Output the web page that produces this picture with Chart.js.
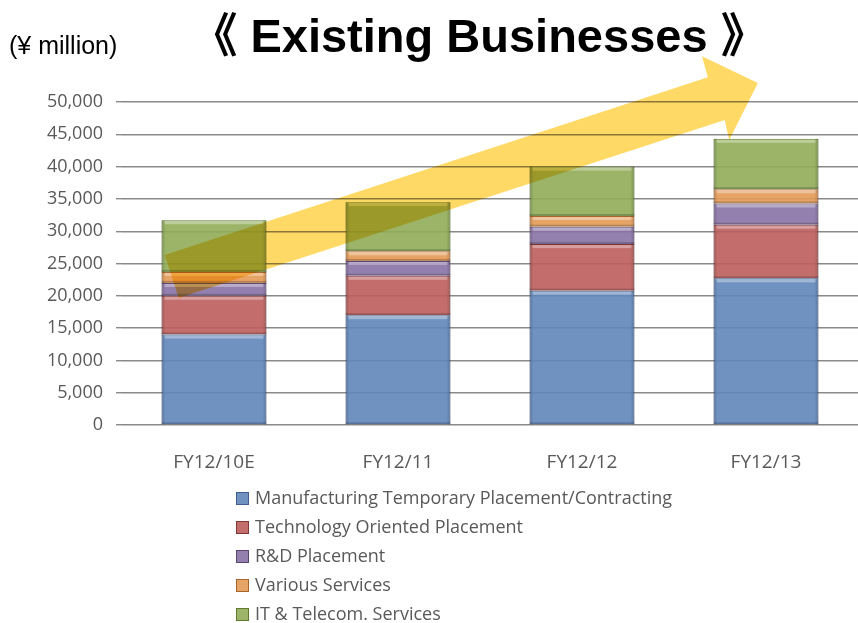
<!DOCTYPE html>
<html lang="en">
<head>
<meta charset="UTF-8">
<title>Existing Businesses</title>
<script src="https://cdn.jsdelivr.net/npm/chart.js"></script>
<style>
  html, body { margin: 0; padding: 0; background: #fff; }
  #wrap { position: relative; width: 858px; height: 623px; overflow: hidden; }
  #wrap canvas { position: absolute; left: 0; top: 0; }
  .title { position: absolute; left: 0; width: 958px; top: 8px; text-align: center; line-height: 48px;
           font: bold 47px "Liberation Sans", Arial, "Noto Sans CJK JP", sans-serif; color: #000; }
  .title span { line-height: 0; }
  .unit { position: absolute; left: 9px; top: 31px; line-height: 30px;
          font: 25px "Liberation Sans Narrow", "Liberation Sans", sans-serif; color: #000; }
  #legend { position: absolute; left: 236px; top: 484px; margin: 0; padding: 0; list-style: none;
            font: 18px "Open Sans", sans-serif; color: #595959; }
  #legend li { height: 29px; line-height: 26px; white-space: nowrap; }
  #legend span { display: inline-block; width: 11px; height: 11px; margin-right: 6px; vertical-align: -1px; }
</style>
</head>
<body>
<div id="wrap">
  <canvas id="chart" width="858" height="623"></canvas>
  <div class="title"><span>《</span> Existing Businesses <span>》</span></div>
  <div class="unit">(¥ million)</div>
  <ul id="legend"></ul>
</div>

<script>
// values in ¥ million
const categories = ['FY12/10E', 'FY12/11', 'FY12/12', 'FY12/13'];
const manufacturing = [14000, 17000, 20800, 22700];
const technology = [6000, 6100, 7200, 8300];
const rnd = [2000, 2300, 2700, 3300];
const various = [1700, 1500, 1650, 2200];
const itTelecom = [8000, 7600, 7650, 7800];
const yTicks = [0, 5000, 10000, 15000, 20000, 25000, 30000, 35000, 40000, 45000, 50000];

const series = [
    { label: 'Manufacturing Temporary Placement/Contracting', data: manufacturing, fill: 'rgba(96,134,186,0.9)', edge: '#3f5f8c' },
    { label: 'Technology Oriented Placement', data: technology, fill: 'rgba(188,94,92,0.9)', edge: '#7e3735' },
    { label: 'R&D Placement', data: rnd, fill: 'rgba(136,114,166,0.9)', edge: '#5a4575' },
    { label: 'Various Services', data: various, fill: 'rgba(228,154,86,0.9)', edge: '#a8652c' },
    { label: 'IT & Telecom. Services', data: itTelecom, fill: 'rgba(144,172,86,0.9)', edge: '#5f7a30' }
];

// bevel-ish look on every bar segment: light top strip, darker sides
const bevelPlugin = {
    id: 'bevel',
    afterDatasetsDraw(chart) {
        const ctx = chart.ctx;
        ctx.save();
        chart.data.datasets.forEach((ds, i) => {
            chart.getDatasetMeta(i).data.forEach(bar => {
                const p = bar.getProps(['x', 'y', 'base', 'width'], true);
                const l = p.x - p.width / 2, r = p.x + p.width / 2;
                const t = Math.min(p.y, p.base), b = Math.max(p.y, p.base);
                ctx.fillStyle = 'rgba(255,255,255,0.35)';
                ctx.fillRect(l + 3, t + 1, r - l - 6, 3);
                const g = ctx.createLinearGradient(l, 0, r, 0);
                g.addColorStop(0, 'rgba(0,0,0,0.18)');
                g.addColorStop(0.04, 'rgba(0,0,0,0)');
                g.addColorStop(0.96, 'rgba(0,0,0,0)');
                g.addColorStop(1, 'rgba(0,0,0,0.18)');
                ctx.fillStyle = g;
                ctx.fillRect(l, t, r - l, b - t);
                ctx.fillStyle = 'rgba(0,0,0,0.2)';
                ctx.fillRect(l, b - 2, r - l, 2);
            });
        });
        ctx.restore();
    }
};

// big yellow arrow laid over the bars (multiply, like the slide)
const arrowPlugin = {
    id: 'arrow',
    afterDatasetsDraw(chart) {
        const ctx = chart.ctx;
        const a = chart.chartArea;
        const fx = f => a.left + f * (a.right - a.left);
        const fy = f => a.top + f * (a.bottom - a.top);
        const pts = [
            [0.058, 0.474], [0.796, -0.077], [0.788, -0.142], [0.864, -0.059],
            [0.825, 0.118], [0.819, 0.056], [0.077, 0.607]
        ];
        ctx.save();
        ctx.globalCompositeOperation = 'multiply';
        ctx.fillStyle = '#ffd966';
        ctx.beginPath();
        pts.forEach((p, i) => i ? ctx.lineTo(fx(p[0]), fy(p[1])) : ctx.moveTo(fx(p[0]), fy(p[1])));
        ctx.closePath();
        ctx.fill();
        ctx.restore();
    }
};

const chart = new Chart(document.getElementById('chart'), {
    type: 'bar',
    data: {
        labels: categories,
        datasets: series.map(s => ({
            label: s.label,
            data: s.data,
            backgroundColor: s.fill,
            borderColor: s.edge,
            borderWidth: 1,
            barPercentage: 0.57,
            categoryPercentage: 1
        }))
    },
    options: {
        responsive: false,
        animation: false,
        layout: { padding: { top: 102, left: 0, right: 0, bottom: 0 } },
        plugins: {
            legend: { display: false },
            tooltip: { enabled: false }
        },
        scales: {
            x: {
                stacked: true,
                grid: { display: false, drawTicks: false },
                border: { display: false },
                ticks: { padding: 26, color: '#595959', font: { family: 'Open Sans', size: 19 } },
                afterFit: s => { s.height = 198; }
            },
            y: {
                stacked: true,
                min: 0,
                max: 50000,
                afterBuildTicks: s => { s.ticks = yTicks.map(v => ({ value: v })); },
                grid: { color: '#8a8a8a', lineWidth: 1.4, tickLength: 6 },
                border: { display: false },
                ticks: {
                    padding: 13,
                    color: '#595959',
                    font: { family: 'Open Sans', size: 18 },
                    callback: v => v.toLocaleString('en-US')
                },
                afterFit: s => { s.width = 122; }
            }
        }
    },
    plugins: [bevelPlugin, arrowPlugin]
});

// vertical legend like the original
const legend = document.getElementById('legend');
series.forEach(s => {
    const li = document.createElement('li');
    li.innerHTML = '<span style="background:' + s.fill + ';border:1px solid ' + s.edge + '"></span>' + s.label.replace(/&/g, '&amp;');
    legend.appendChild(li);
});
</script>
</body>
</html>
